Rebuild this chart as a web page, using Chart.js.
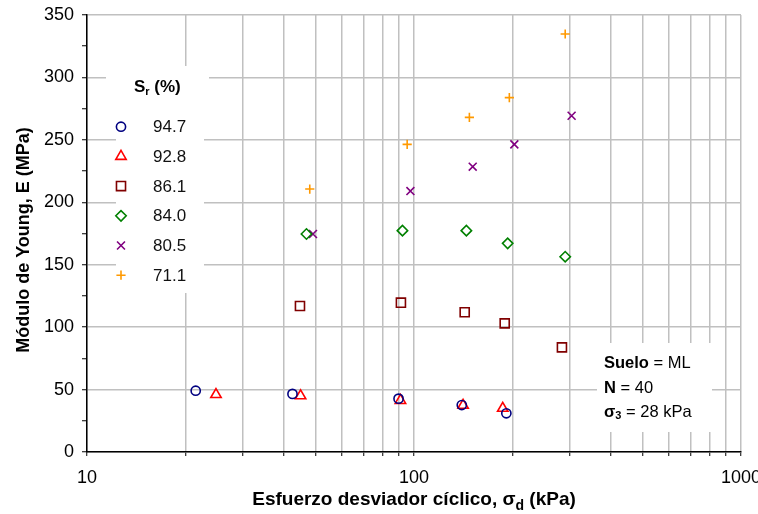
<!DOCTYPE html>
<html>
<head>
<meta charset="utf-8">
<script src="https://cdn.jsdelivr.net/npm/chart.js@4/dist/chart.umd.min.js"></script>
<style>
  html, body { margin: 0; padding: 0; background: #fff; }
  canvas { display: block; }
</style>
</head>
<body>
<canvas id="c" width="758" height="514"></canvas>
<script>
// Degree of saturation of each test series (legend labels)
const saturation = ['94.7', '92.8', '86.1', '84.0', '80.5', '71.1'];

// Cyclic deviator stress, kPa
const sd947 = [21.5, 42.5, 89.7, 140.0, 191.6];
const sd928 = [24.8, 45.0, 90.9, 141.3, 186.8];
const sd861 = [44.8, 91.2, 142.9, 189.4, 283.4];
const sd840 = [46.9, 92.2, 144.6, 193.4, 290.0];
const sd805 = [49.1, 97.5, 151.2, 202.7, 303.4];
const sd711 = [48.0, 95.3, 147.7, 195.7, 290.0];

// Young's modulus, MPa
const E947 = [49.1, 46.5, 42.7, 37.6, 31.0];
const E928 = [46.0, 45.0, 41.3, 37.4, 35.0];
const E861 = [116.9, 119.6, 111.9, 103.0, 83.8];
const E840 = [174.6, 177.3, 177.3, 167.1, 156.4];
const E805 = [174.6, 209.0, 228.5, 246.4, 269.3];
const E711 = [210.6, 246.4, 268.0, 283.8, 334.8];

// Axis ticks
const xTicks = [10, 20, 30, 40, 50, 60, 70, 80, 90, 100, 200, 300, 400, 500, 600, 700, 800, 900, 1000];
const xTickLabels = [10, 100, 1000];
const yLabelStep = 50;

const FONT = '"Liberation Sans", Arial, Helvetica, sans-serif';

function pts(xs, ys) { return xs.map((x, i) => ({ x: x, y: ys[i] })); }

function series(label, xs, ys, style, color, radius) {
  return {
    label: label,
    data: pts(xs, ys),
    pointStyle: style,
    pointRadius: radius,
    pointBorderColor: color,
    pointBackgroundColor: 'rgba(0,0,0,0)',
    pointBorderWidth: 1.6,
    borderColor: color,
    backgroundColor: 'rgba(0,0,0,0)',
    showLine: false
  };
}

const datasets = [
  series(saturation[0], sd947, E947, 'circle',   '#000080', 4.6),
  series(saturation[1], sd928, E928, 'triangle', '#ff0000', 6.0),
  series(saturation[2], sd861, E861, 'rect',     '#800000', 6.4),
  series(saturation[3], sd840, E840, 'rectRot',  '#008000', 5.2),
  series(saturation[4], sd805, E805, 'crossRot', '#800080', 5.6),
  series(saturation[5], sd711, E711, 'cross',    '#ff9900', 4.6)
];

// Draws a sequence of text runs (for sub-scripts and mixed weights)
function drawRuns(ctx, runs, x, y, align) {
  let total = 0;
  runs.forEach(r => { ctx.font = r.font; r.w = ctx.measureText(r.text).width; total += r.w; });
  let cx = align === 'center' ? x - total / 2 : x;
  ctx.textAlign = 'left';
  ctx.textBaseline = 'middle';
  runs.forEach(r => {
    ctx.font = r.font;
    ctx.fillText(r.text, cx, y + (r.dy || 0));
    cx += r.w;
  });
}

const decorations = {
  id: 'decorations',
  beforeDatasetsDraw(chart) {
    const ctx = chart.ctx;
    ctx.save();
    ctx.fillStyle = '#fff';
    // legend title and legend panels
    ctx.fillRect(106, 66, 103, 34);
    ctx.fillRect(116, 100, 88, 193);
    // soil note panel
    ctx.fillRect(597, 343, 115, 89);
    ctx.restore();
  },
  afterDraw(chart) {
    const ctx = chart.ctx;
    const area = chart.chartArea;
    ctx.save();
    ctx.fillStyle = '#000';

    // legend title
    drawRuns(ctx, [
      { text: 'S', font: 'bold 17px ' + FONT },
      { text: 'r', font: 'bold 11px ' + FONT, dy: 5 },
      { text: ' (%)', font: 'bold 17px ' + FONT }
    ], 134, 87, 'left');

    // legend entries
    chart.data.datasets.forEach((ds, i) => {
      const y = 126.7 + i * 29.7;
      ctx.save();
      ctx.strokeStyle = ds.pointBorderColor;
      ctx.fillStyle = 'rgba(0,0,0,0)';
      ctx.lineWidth = ds.pointBorderWidth;
      Chart.helpers.drawPoint(ctx, { pointStyle: ds.pointStyle, radius: ds.pointRadius, rotation: 0, borderWidth: ds.pointBorderWidth }, 121, y);
      ctx.restore();
      ctx.fillStyle = '#111';
      ctx.font = '17px ' + FONT;
      ctx.textAlign = 'left';
      ctx.textBaseline = 'middle';
      ctx.fillText(ds.label, 153, y + 1);
    });

    // soil note
    ctx.fillStyle = '#000';
    drawRuns(ctx, [
      { text: 'Suelo', font: 'bold 16.5px ' + FONT },
      { text: ' = ML', font: '16.5px ' + FONT }
    ], 604, 363, 'left');
    drawRuns(ctx, [
      { text: 'N', font: 'bold 16.5px ' + FONT },
      { text: ' = 40', font: '16.5px ' + FONT }
    ], 604, 388, 'left');
    drawRuns(ctx, [
      { text: 'σ', font: 'bold 16.5px ' + FONT },
      { text: '3', font: 'bold 11px ' + FONT, dy: 4 },
      { text: ' = 28 kPa', font: '16.5px ' + FONT }
    ], 604, 412, 'left');

    // x axis title
    drawRuns(ctx, [
      { text: 'Esfuerzo desviador cíclico, σ', font: 'bold 19px ' + FONT },
      { text: 'd', font: 'bold 14px ' + FONT, dy: 6 },
      { text: ' (kPa)', font: 'bold 19px ' + FONT }
    ], (area.left + area.right) / 2, 500, 'center');

    // y axis title
    ctx.save();
    ctx.translate(24, 240);
    ctx.rotate(-Math.PI / 2);
    drawRuns(ctx, [
      { text: 'Módulo de Young, E (MPa)', font: 'bold 18px ' + FONT }
    ], 0, 0, 'center');
    ctx.restore();
    ctx.restore();
  }
};

new Chart(document.getElementById('c'), {
  type: 'scatter',
  data: { datasets: datasets },
  plugins: [decorations],
  options: {
    responsive: false,
    devicePixelRatio: 1,
    animation: false,
    layout: { padding: { left: 0, right: 17, top: 15, bottom: 0 } },
    plugins: { legend: { display: false }, tooltip: { enabled: false } },
    scales: {
      x: {
        type: 'logarithmic',
        min: 10,
        max: 1000,
        afterBuildTicks: s => { s.ticks = xTicks.map(v => ({ value: v })); },
        afterFit: s => {
          s.height = 62;
          s.paddingLeft = 0; s.paddingRight = 0; s.paddingTop = 0; s.paddingBottom = 0;
        },
        ticks: {
          autoSkip: false,
          maxRotation: 0,
          padding: 11,
          color: '#000',
          font: { family: FONT, size: 18 },
          callback: v => xTickLabels.includes(v) ? String(v) : ''
        },
        grid: {
          color: '#c0c0c0',
          lineWidth: 1.5,
          tickColor: '#000',
          tickLength: 4,
          tickWidth: 1
        },
        border: { display: true, color: '#000', width: 1.5 }
      },
      y: {
        type: 'linear',
        min: 0,
        max: 350,
        afterFit: s => {
          s.width = 87;
          s.paddingLeft = 0; s.paddingRight = 0; s.paddingTop = 0; s.paddingBottom = 0;
        },
        ticks: {
          stepSize: 25,
          padding: 8,
          color: '#000',
          font: { family: FONT, size: 18 },
          callback: v => (v % yLabelStep === 0 ? String(v) : '')
        },
        grid: {
          color: c => (c.tick && c.tick.value % yLabelStep === 0 ? '#c0c0c0' : 'rgba(0,0,0,0)'),
          lineWidth: 1.5,
          tickColor: '#000',
          tickLength: 5,
          tickWidth: 1
        },
        border: { display: true, color: '#000', width: 1.5 }
      }
    }
  }
});
</script>
</body>
</html>
